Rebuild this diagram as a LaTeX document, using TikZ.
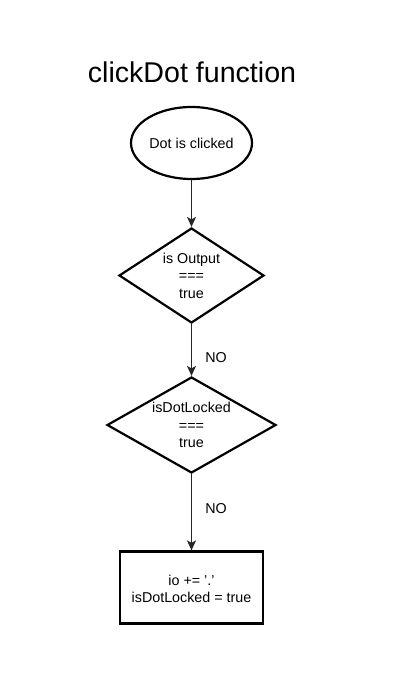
\documentclass[tikz,border=0pt]{standalone}
\usepackage{fontspec}
\setmainfont{Liberation Sans}
\usetikzlibrary{shapes.geometric,arrows.meta}

\tikzset{
  shapeline/.style={draw=black, line width=2.2pt, fill=white},
  startnode/.style={shapeline, ellipse, inner sep=0pt, minimum width=121pt, minimum height=72pt},
  decision/.style={shapeline, diamond, inner sep=0pt},
  process/.style={shapeline, rectangle, inner sep=0pt, minimum width=143pt, minimum height=72pt},
  txt/.style={font=\fontsize{14.3}{17.5}\selectfont, align=center, inner sep=0pt},
  flow/.style={draw=black!85, line width=1.4pt, -{Stealth[length=10pt, width=9pt, inset=2.5pt]}},
}

\begin{document}
\begin{tikzpicture}[x=1pt, y=-1pt]
  \useasboundingbox (0,0) rectangle (407,685);

  % heading
  \node[anchor=base, inner sep=0pt, font=\fontsize{28.6}{34}\selectfont] (title) at (192,82) {clickDot function};

  % flow shapes
  \node[startnode] (start) at (191.5,143) {};
  \node[txt] (starttxt) at (191.5,143) {Dot is clicked};

  \node[decision, minimum width=145pt, minimum height=95pt] (isout) at (191.5,275.5) {};
  \node[txt] (isouttxt) at (191.5,275.5) {is Output\\===\\true};

  \node[decision, minimum width=169pt, minimum height=96pt] (locked) at (191.5,425) {};
  \node[txt] (lockedtxt) at (191.5,425) {isDotLocked\\===\\true};

  \node[process] (act) at (191.5,587.5) {};
  \node[txt] (acttxt) at (191.5,589) {io += '.'\\isDotLocked = true};

  % connectors
  \draw[flow] (start.south) -- (isout.north);
  \draw[flow] (isout.south) -- (locked.north);
  \draw[flow] (locked.south) -- (act.north);

  % branch labels
  \node[txt] (no1) at (216,358) {NO};
  \node[txt] (no2) at (216,509) {NO};
\end{tikzpicture}
\end{document}
